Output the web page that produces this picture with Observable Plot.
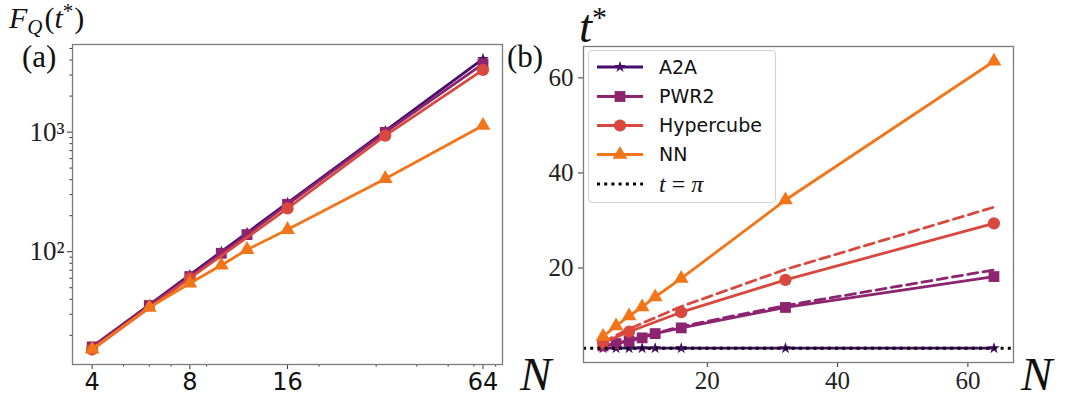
<!DOCTYPE html>
<html>
<head>
<meta charset="utf-8">
<script src="https://cdn.jsdelivr.net/npm/d3@7"></script>
<script src="https://cdn.jsdelivr.net/npm/@observablehq/plot@0.6"></script>
<style>
  html, body { margin: 0; padding: 0; background: #fff; }
  #wrap { position: relative; width: 1070px; height: 400px; background: #fff; overflow: hidden; }
  #left, #right, #overlay { position: absolute; top: 0; }
  #left { left: 0; }
  #right { left: 520px; }
  #overlay { left: 0; pointer-events: none; }
</style>
</head>
<body>
<div id="wrap">
  <div id="left"></div>
  <div id="right"></div>
  <svg id="overlay" width="1070" height="400"></svg>
</div>
<script>
// ---------- data ----------
const series = ["A2A", "PWR2", "Hypercube", "NN"];
const colors = ["#470d6c", "#8c2470", "#d9483f", "#f37519"];
const symbols = ["star", "square", "circle", "triangle"];
const symbolR = [3.7, 6.1, 6.1, 5.5];

const N = [4, 6, 8, 10, 12, 16, 32, 64];
const NHyper = [4, 8, 16, 32, 64];

// panel (a): F_Q(t*)
const fqA2A   = [16, 36, 64, 100, 144, 256, 1024, 4096];
const fqPWR2  = [16, 35.5, 62, 97, 139, 249, 995, 3720];
const fqHyper = [15.2, 60, 230, 935, 3310];
const fqNN    = [15.3, 34.2, 54.5, 77, 104, 153, 408, 1135];

// panel (b): t*
const tA2A   = [3.14, 3.14, 3.14, 3.14, 3.14, 3.14, 3.14, 3.14];
const tPWR2  = [3.6, 4.1, 4.6, 5.3, 6.2, 7.4, 11.7, 18.2];
const tHyper = [4.3, 6.6, 10.7, 17.5, 29.4];
const tNN    = [5.6, 7.8, 9.9, 11.8, 13.9, 17.8, 34.3, 63.5];
// dashed reference curves
const fitPWR2  = [3.5, 4.8, 7.7, 12.1, 19.6];
const fitHyper = [4.4, 7.2, 11.9, 19.7, 32.8];
const piLine = [3.14159];

// ticks
const xTicksA = [4, 8, 16, 64];
const xMinorA = [5, 6, 7, 9, 20, 30, 40, 50, 60, 70];
const yTicksA = [100, 1000];
const yTickLabelsA = ["10²", "10³"];
const yMinorA = [20, 30, 40, 50, 60, 70, 80, 90, 200, 300, 400, 500, 600, 700, 800, 900, 2000, 3000, 4000, 5000];
const xTicksB = [20, 40, 60];
const yTicksB = [20, 40, 60];

// ---------- tables ----------
function rows(xs, vs, s) { return xs.map((x, i) => ({N: x, v: vs[i], s})); }
const fqData = [
  rows(N, fqA2A, 0), rows(N, fqPWR2, 1), rows(NHyper, fqHyper, 2), rows(N, fqNN, 3)
];
const tData = [
  rows(N, tA2A, 0), rows(N, tPWR2, 1), rows(NHyper, tHyper, 2), rows(N, tNN, 3)
];
const fitData = [rows(NHyper, fitPWR2, 1), rows(NHyper, fitHyper, 2)];

const frameColor = "#7c7c7c";
const tickColor = "#333";
const lw = 2.8;

function seriesMarks(data) {
  const m = [];
  data.forEach(d => {
    const s = d[0].s;
    m.push(Plot.line(d, {x: "N", y: "v", stroke: colors[s], strokeWidth: lw}));
    m.push(Plot.dot(d, {x: "N", y: "v", symbol: symbols[s], r: symbolR[s], fill: colors[s], stroke: "none"}));
  });
  return m;
}

// ---------- panel (a) ----------
const leftPlot = Plot.plot({
  width: 520, height: 400,
  marginLeft: 72, marginRight: 18, marginTop: 44, marginBottom: 36,
  x: {type: "log", base: 2, domain: [3.48, 73.5]},
  y: {type: "log", domain: [11.4, 5400]},
  style: {background: "transparent", overflow: "visible", color: "#111"},
  marks: [
    Plot.axisX(xMinorA, {tickSize: 2.5, stroke: tickColor, tickFormat: () => "", label: null}),
    Plot.axisX(xTicksA, {tickSize: 5, tickPadding: 3, stroke: tickColor, tickFormat: d => String(d),
      fontSize: 24, fontFamily: "DejaVu Sans", fill: "#111", label: null}),
    Plot.axisY(yMinorA, {tickSize: 2.5, stroke: tickColor, tickFormat: () => "", label: null}),
    Plot.axisY(yTicksA, {tickSize: 5, tickPadding: 3, stroke: tickColor,
      tickFormat: d => yTickLabelsA[yTicksA.indexOf(d)],
      fontSize: 27, fontFamily: "Liberation Serif", fill: "#222", label: null}),
    ...seriesMarks(fqData),
    Plot.frame({stroke: frameColor, strokeWidth: 1.3})
  ]
});
document.getElementById("left").appendChild(leftPlot);

// ---------- panel (b) ----------
const rightPlot = Plot.plot({
  width: 550, height: 400,
  marginLeft: 63, marginRight: 57, marginTop: 46, marginBottom: 38,
  x: {domain: [1, 67]},
  y: {domain: [0.12, 66.6]},
  style: {background: "transparent", overflow: "visible", color: "#111"},
  marks: [
    Plot.axisX(xTicksB, {tickSize: 5, tickPadding: 4, stroke: tickColor, tickFormat: d => String(d),
      fontSize: 25, fontFamily: "Liberation Serif", fill: "#222", label: null}),
    Plot.axisY(yTicksB, {tickSize: 5, tickPadding: 5, stroke: tickColor, tickFormat: d => String(d),
      fontSize: 25, fontFamily: "Liberation Serif", fill: "#222", label: null}),
    ...fitData.map(d => Plot.line(d, {x: "N", y: "v", stroke: colors[d[0].s], strokeWidth: lw, strokeDasharray: "10,5.5"})),
    ...seriesMarks(tData),
    Plot.ruleY(piLine, {stroke: "#000", strokeWidth: 3, strokeDasharray: "3,4.2"}),
    Plot.frame({stroke: frameColor, strokeWidth: 1.3})
  ]
});
document.getElementById("right").appendChild(rightPlot);

// ---------- overlay text & legend ----------
const ov = d3.select("#overlay");
const serif = "Liberation Serif";

function mathText(x, y, size, parts) {
  const t = ov.append("text").attr("x", x).attr("y", y)
    .attr("font-family", serif).attr("font-size", size).attr("fill", "#111");
  parts.forEach(p => {
    const ts = t.append("tspan").text(p.t);
    if (p.i) ts.attr("font-style", "italic");
    if (p.s) ts.attr("font-size", p.s);
    if (p.dy) ts.attr("dy", p.dy);
    if (p.dx) ts.attr("dx", p.dx);
  });
  return t;
}

// F_Q(t*)
mathText(9, 28, 30, [
  {t: "F", i: true},
  {t: "Q", i: true, s: 21, dy: 6},
  {t: "(", dy: -6, dx: 2},
  {t: "t", i: true},
  {t: "*", s: 21, dy: -10},
  {t: ")", dy: 10, dx: 1}
]);
// t*
mathText(579, 42, 47, [
  {t: "t", i: true},
  {t: "*", s: 30, dy: -15}
]);
// N labels
mathText(520, 390, 47, [{t: "N", i: true}]);
mathText(1021, 390, 47, [{t: "N", i: true}]);
// panel labels
mathText(22, 67, 31, [{t: "(a)"}]);
mathText(507, 67, 31, [{t: "(b)"}]);

// legend
const lg = ov.append("g");
lg.append("rect").attr("x", 588.5).attr("y", 50.5).attr("width", 187).attr("height", 152)
  .attr("rx", 4).attr("fill", "#fff").attr("fill-opacity", 0.85).attr("stroke", "#d4d4d4").attr("stroke-width", 1.2);
const rowY = [67, 96.5, 125.5, 154.5, 184];
const symMap = {star: d3.symbolStar, square: d3.symbolSquare, circle: d3.symbolCircle, triangle: d3.symbolTriangle};
series.forEach((name, i) => {
  const y = rowY[i];
  lg.append("line").attr("x1", 597).attr("x2", 643).attr("y1", y).attr("y2", y)
    .attr("stroke", colors[i]).attr("stroke-width", lw);
  lg.append("path").attr("transform", `translate(620,${y})`)
    .attr("d", d3.symbol(symMap[symbols[i]], Math.PI * symbolR[i] * symbolR[i])())
    .attr("fill", colors[i]);
  lg.append("text").attr("x", 659).attr("y", y).attr("dy", "0.36em")
    .attr("font-family", "DejaVu Sans").attr("font-size", 19).attr("fill", "#111").text(name);
});
lg.append("line").attr("x1", 597).attr("x2", 643).attr("y1", rowY[4]).attr("y2", rowY[4])
  .attr("stroke", "#000").attr("stroke-width", 3).attr("stroke-dasharray", "3,4.2");
const piT = lg.append("text").attr("x", 659).attr("y", rowY[4]).attr("dy", "0.33em")
  .attr("font-family", serif).attr("font-size", 24).attr("fill", "#111");
piT.append("tspan").attr("font-style", "italic").text("t");
piT.append("tspan").text(" = ");
piT.append("tspan").attr("font-style", "italic").text("π");
</script>
</body>
</html>
